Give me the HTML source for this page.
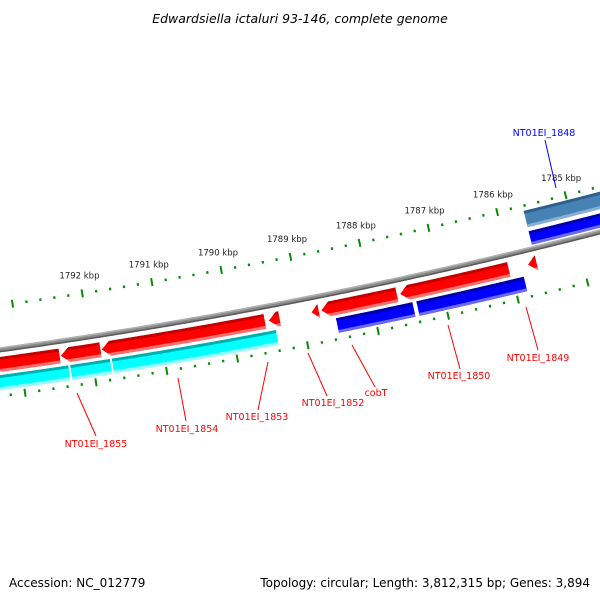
<!DOCTYPE html>
<html><head><meta charset="utf-8"><style>
html,body{margin:0;padding:0;background:#fff;}
svg{display:block;font-family:"DejaVu Sans","Liberation Sans",sans-serif;}
</style></head><body>
<svg id="map" width="600" height="600" viewBox="0 0 600 600" xmlns="http://www.w3.org/2000/svg">
<defs><clipPath id="vp"><rect x="0" y="0" width="600" height="600"/></clipPath></defs>
<text x="300" y="23" text-anchor="middle" font-size="12.5" font-style="italic" fill="#000">Edwardsiella ictaluri 93-146, complete genome</text>
<g id="plot" clip-path="url(#vp)"></g>
<g id="labels"></g>
<text x="9" y="587" font-size="12" fill="#000">Accession: NC_012779</text>
<text x="590" y="587" text-anchor="end" font-size="12" fill="#000">Topology: circular; Length: 3,812,315 bp; Genes: 3,894</text>
</svg>
<script>
// data (kbp)
const majorTicks = [1784,1785,1786,1787,1788,1789,1790,1791,1792,1793,1794];
const tickLabels = ["1785 kbp","1786 kbp","1787 kbp","1788 kbp","1789 kbp","1790 kbp","1791 kbp","1792 kbp"];
const tickLabelValues = [1785,1786,1787,1788,1789,1790,1791,1792];
const geneStarts = [1792.44,1791.86,1789.52,1789.31,1788.75,1787.63,1786.02,1785.62, 1792.34,1791.75,1789.39, 1785.84,1787.44, 1784.0,1784.0];
const geneEnds   = [1793.40,1792.43,1791.85,1789.47,1788.86,1788.72,1787.59,1785.75, 1793.40,1792.32,1791.73, 1787.39,1788.54, 1785.63,1785.63];
const geneTracks = ["rev","rev","rev","rev","rev","rev","rev","rev","lowb","lowb","lowb","lowb","lowb","fwd2","fwd1"];
const geneColors = ["red","red","red","red","red","red","red","red","cyan","cyan","cyan","blue","blue","steel","blue"];
const geneArrow  = [true,true,true,true,true,true,true,true,false,false,false,false,false,false,false];
const labelTexts = ["NT01EI_1848","NT01EI_1849","NT01EI_1850","cobT","NT01EI_1852","NT01EI_1853","NT01EI_1854","NT01EI_1855"];
const labelColors = ["#0000ff","#ff0000","#ff0000","#ff0000","#ff0000","#ff0000","#ff0000","#ff0000"];

const NS="http://www.w3.org/2000/svg";
const cx=-720, cy=-4898, R0=5297;
const th1=Math.atan2(292-cy,82-cx), th2=Math.atan2(193-cy,565-cx);
function ang(bp){return th2+(bp-1785)*(th1-th2)/7;}
function pt(bp,r){const a=ang(bp);return [cx+r*Math.cos(a), cy+r*Math.sin(a)];}
const plot=document.getElementById('plot');
function mk(tag,attrs,parent){const e=document.createElementNS(NS,tag);for(const k in attrs)e.setAttribute(k,attrs[k]);(parent||plot).appendChild(e);return e;}
function arcPts(b0,b1,r){const pts=[];const n=Math.max(2,Math.ceil(Math.abs(b1-b0)/0.05));for(let i=0;i<=n;i++){pts.push(pt(b0+(b1-b0)*i/n,r));}return pts;}
function bandPath(b0,b1,ri,ro){const a=arcPts(b0,b1,ri),b=arcPts(b1,b0,ro);return "M"+a.concat(b).map(p=>p[0].toFixed(2)+","+p[1].toFixed(2)).join("L")+"Z";}

// backbone
let bb=mk('path',{d:bandPath(1783.5,1794,R0-2.5,R0+2.5),fill:'#8a8a8a'});


let bb2=mk('path',{d:bandPath(1783.5,1794,R0-2.5,R0-1),fill:'#b0b0b0'});


let bb3=mk('path',{d:bandPath(1783.5,1794,R0+1,R0+2.5),fill:'#5a5a5a'});



// ticks
const rings=[R0-44,R0+46];
rings.forEach((rr,ri)=>{
  for(let k=0;k<majorTicks.length-1;k++){
    for(let m=0;m<5;m++){
      const bp=majorTicks[k]+m*0.2;
      const major=(m===0);
      const half=major?4:1.3;
      const p1=pt(bp,rr-half),p2=pt(bp,rr+half);
      const t=mk('line',{x1:p1[0],y1:p1[1],x2:p2[0],y2:p2[1],stroke:'#0a8a0a','stroke-width':major?2:2.2});
      
      
    }
  }
});
tickLabelValues.forEach((v,i)=>{
  const p=pt(v,R0-62);
  const t=mk('text',{x:p[0],y:p[1]+3,'text-anchor':'middle','font-size':'8.5',fill:'#222'});
  t.textContent=tickLabels[i];
  
  
});

// genes
const trackR={rev:[R0+7,R0+22],lowb:[R0+25,R0+40],fwd1:[R0-18,R0-4],fwd2:[R0-39,R0-22]};
const pal={red:['#c40000','#ff0000','#ff7070'],blue:['#0000a8','#0000ff','#6a6aff'],cyan:['#00b0b0','#00ffff','#90ffff'],steel:['#2f5f8a','#4682b4','#85b0d4']};
geneStarts.forEach((s,i)=>{
  const e=geneEnds[i];const [ri,ro]=trackR[geneTracks[i]];const c=pal[geneColors[i]];
  const g=mk('g',{});
  
  
  let d;
  if(geneArrow[i]){
    const head=Math.min(0.12,(e-s));
    const hb=e-head;
    const a=arcPts(s,hb,ri),tip=pt(e,(ri+ro)/2),b=arcPts(hb,s,ro);
    const all=a.concat([tip]).concat(b);
    d="M"+all.map(p=>p[0].toFixed(2)+","+p[1].toFixed(2)).join("L")+"Z";
  } else d=bandPath(s,e,ri,ro);
  const id='cg'+i;
  const cp=mk('clipPath',{id:id},g);mk('path',{d:d},cp);
  const inner=mk('g',{'clip-path':'url(#'+id+')'},g);
  mk('path',{d:bandPath(s-0.01,e+0.01,ri,ro),fill:c[1]},inner);
  mk('path',{d:bandPath(s-0.01,e+0.01,ri,ri+3),fill:c[0]},inner);
  mk('path',{d:bandPath(s-0.01,e+0.01,ro-3,ro),fill:c[2]},inner);
  const p1=pt(s,ri),p2=pt(s,ro);
  mk('line',{x1:p1[0],y1:p1[1],x2:p2[0],y2:p2[1],stroke:'#fff','stroke-width':1},g);
});

// labels
const labelPos=[[544,136],[538,361],[459,379],[376,396],[333,406],[257,420],[187,432],[96,447]];
const lineSeg=[[545,140,556,188],[526,307,538,350],[448,325,460,369],[352,345,375,387],[308,353,327,396],[268,362,258,410],[178,378,186,421],[77,393,96,436]];
const lg=document.getElementById('labels');
labelTexts.forEach((t,i)=>{
  const s=lineSeg[i];
  const l=mk('line',{x1:s[0],y1:s[1],x2:s[2],y2:s[3],stroke:labelColors[i],'stroke-width':1},lg);
  
  
  const tx=mk('text',{x:labelPos[i][0],y:labelPos[i][1],'text-anchor':'middle','font-size':'9.5',fill:labelColors[i]},lg);
  tx.textContent=t;
  
  
});
</script>
</body></html>
